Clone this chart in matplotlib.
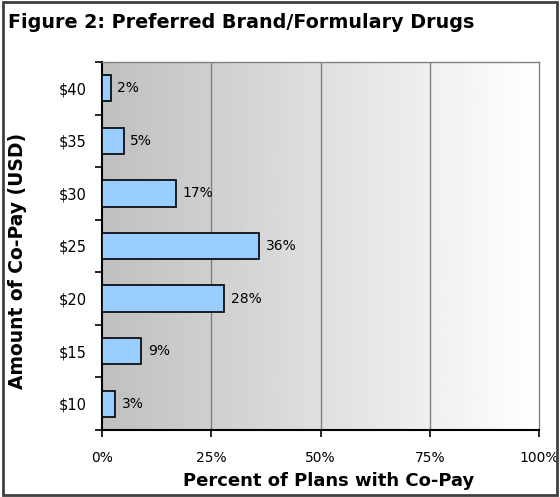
import numpy as np
import matplotlib.pyplot as plt
from matplotlib.patches import Rectangle

copays = ["$10", "$15", "$20", "$25", "$30", "$35", "$40"]
percents = [3, 9, 28, 36, 17, 5, 2]
xticks = [0, 25, 50, 75, 100]
xtick_labels = ["0%", "25%", "50%", "75%", "100%"]

W, H = 560, 497
fig = plt.figure(figsize=(W / 100, H / 100), dpi=100)
ax = fig.add_axes([102 / W, 1 - 430 / H, 437 / W, 368 / H])

# gray-to-white gradient behind the bars
grad = np.linspace(0.75, 1.0, 256).reshape(1, -1)
ax.imshow(grad, cmap="gray", vmin=0, vmax=1, aspect="auto",
          extent=[0, 100, -0.5, len(copays) - 0.5], zorder=0)

y = np.arange(len(copays))
ax.barh(y, percents, height=0.5, color="#99ccff", edgecolor="black",
        linewidth=1.2, zorder=3)
for yi, p in zip(y, percents):
    ax.text(p + 1.5, yi, f"{p}%", va="center", ha="left", fontsize=10, zorder=4)

ax.set_xlim(0, 100)
ax.set_ylim(-0.5, len(copays) - 0.5)
ax.set_xticks(xticks)
ax.set_xticklabels(xtick_labels, fontsize=10)
ax.set_yticks(y)
ax.set_yticklabels(copays, fontsize=10.5)
ax.set_yticks(np.arange(-0.5, len(copays)), minor=True)
ax.tick_params(axis="y", which="major", length=0, pad=11)
ax.tick_params(axis="y", which="minor", length=5, width=1.2, direction="out")
ax.tick_params(axis="x", length=5, width=1.2, direction="out", pad=10)

for x in xticks[1:-1]:
    ax.axvline(x, color="#808080", linewidth=1, zorder=1)

for side in ("top", "right"):
    ax.spines[side].set_color("#808080")
    ax.spines[side].set_linewidth(1)
for side in ("left", "bottom"):
    ax.spines[side].set_color("black")
    ax.spines[side].set_linewidth(1.5)

fig.text(329 / W, 1 - 481 / H, "Percent of Plans with Co-Pay", fontsize=13,
         fontweight="bold", ha="center", va="center")
fig.text(18 / W, 1 - 261 / H, "Amount of Co-Pay (USD)", fontsize=13.5,
         fontweight="bold", ha="center", va="center", rotation=90)

fig.text(8 / W, 1 - 22 / H, "Figure 2: Preferred Brand/Formulary Drugs",
         fontsize=13.8, fontweight="bold", ha="left", va="center")

fig.patches.append(Rectangle((3 / W, 2 / H), 554 / W, 493 / H,
                             transform=fig.transFigure, fill=False,
                             edgecolor="#404040", linewidth=2))

fig.savefig("out.png", dpi=100)
